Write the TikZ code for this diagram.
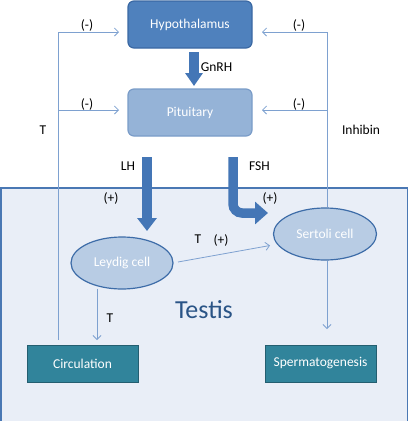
\documentclass[tikz,border=0pt]{standalone}
\usepackage{fontspec}
\setmainfont{Carlito}
\usetikzlibrary{arrows.meta,shapes.geometric}
\definecolor{hypfill}{HTML}{4F81BD}
\definecolor{hypdraw}{HTML}{3A68A3}
\definecolor{pitfill}{HTML}{95B3D7}
\definecolor{pitdraw}{HTML}{7A9CC8}
\definecolor{cellfill}{HTML}{B8CCE4}
\definecolor{celldraw}{HTML}{3D6CA8}
\definecolor{tealfill}{HTML}{31849B}
\definecolor{tealdraw}{HTML}{245E70}
\definecolor{testisbg}{HTML}{E9EEF7}
\definecolor{testisdraw}{HTML}{4A78B4}
\definecolor{thinline}{HTML}{7EA1D0}
\definecolor{bigarrow}{HTML}{4476B6}
\definecolor{testistext}{HTML}{2A5486}
\tikzset{
  txt/.style={font=\fontsize{13.5}{15}\selectfont, inner sep=0pt},
  glandbox/.style={rectangle, rounded corners=6pt, minimum width=124pt, minimum height=47pt, line width=1.2pt, text=white, font=\fontsize{13.5}{15}\selectfont},
  cellell/.style={ellipse, fill=cellfill, draw=celldraw, line width=1.2pt, text=white, font=\fontsize{13.5}{15}\selectfont, inner sep=0pt},
  outbox/.style={rectangle, fill=tealfill, draw=tealdraw, line width=1pt, minimum width=111pt, minimum height=37pt, text=white, font=\fontsize{13.5}{15}\selectfont},
  thin/.style={draw=thinline, line width=0.8pt},
  thinarrow/.style={thin, -{Straight Barb[length=4pt,width=8pt]}},
  blockarrow/.style={draw=bigarrow, line width=9.5pt, -{Triangle[length=13pt,width=19pt]}}
}
\begin{document}
\begin{tikzpicture}[x=1pt,y=-1pt]
\useasboundingbox (0,0) rectangle (409,421);
% testis background
\draw[fill=testisbg, draw=testisdraw, line width=1.5pt] (1,188) rectangle (407.5,430);
% glands
\node[glandbox, fill=hypfill, draw=hypdraw] (hyp) at (190,24.5) {Hypothalamus};
\node[glandbox, fill=pitfill, draw=pitdraw] (pit) at (190,112.5) {Pituitary};
% cells
\node[cellell, minimum width=102pt, minimum height=52pt] (ley) at (122,263) {Leydig cell};
\node[cellell, minimum width=103pt, minimum height=52pt] (ser) at (325,234) {Sertoli cell};
% outputs
\node[outbox] (circ) at (82.5,363.5) {Circulation};
\node[outbox] (sperm) at (320.5,363.5) {Spermatogenesis};
% Testis label
\node[font=\fontsize{26}{28}\selectfont, text=testistext, inner sep=0pt] (testis) at (204,310) {Testis};
% feedback loops
\coordinate (lbot) at (58,340);
\coordinate (ltop) at (58,32);
\coordinate (lmid) at (58,110);
\coordinate (hypL) at (119,32);
\coordinate (pitL) at (119,110);
\coordinate (rtop) at (327,32);
\coordinate (rmid) at (327,110);
\coordinate (hypR) at (262,32);
\coordinate (pitR) at (262,110);
\draw[thin] (lbot) -- (ltop);
\draw[thinarrow] (ltop) -- (hypL);
\draw[thinarrow] (lmid) -- (pitL);
\draw[thin] (ser.north -| rtop) -- (rtop);
\draw[thinarrow] (rtop) -- (hypR);
\draw[thinarrow] (rmid) -- (pitR);
% internal arrows
\coordinate (leyR) at (178,262);
\coordinate (serL) at (270,245.5);
\draw[thinarrow] (leyR) -- (serL);
\coordinate (tstart) at (97,288.5);
\coordinate (tend) at (97,340);
\draw[thinarrow] (tstart) -- (tend);
\coordinate (sstart) at (327,261);
\coordinate (send) at (327,329);
\draw[thinarrow] (sstart) -- (send);
% big arrows
\coordinate (gtop) at (194,52);
\coordinate (gend) at (194,86);
\draw[blockarrow, -{Triangle[length=13pt,width=17pt]}] (gtop) -- (gend);
\coordinate (lhtop) at (147,157);
\coordinate (lhend) at (147,231);
\draw[blockarrow] (lhtop) -- (lhend);
\coordinate (fshtop) at (233,157);
\coordinate (fshend) at (268,213);
\draw[blockarrow, -{Triangle[length=13pt,width=22pt]}, rounded corners=9pt] (fshtop) |- (fshend);
% labels
\node[txt] (m1) at (87,25) {(-)};
\node[txt] (m2) at (299,25) {(-)};
\node[txt] (m3) at (87,104) {(-)};
\node[txt] (m4) at (299,104) {(-)};
\node[txt] (tl) at (43,130) {T};
\node[txt] (inh) at (361,130) {Inhibin};
\node[txt] (gnrh) at (216.5,67) {GnRH};
\node[txt] (lh) at (128,166) {LH};
\node[txt] (fsh) at (259.5,166) {FSH};
\node[txt] (p1) at (111,198) {(+)};
\node[txt] (p2) at (270,198) {(+)};
\node[txt] (t2) at (198,239.5) {T};
\node[txt] (p3) at (221,240) {(+)};
\node[txt] (t3) at (110,318) {T};
\end{tikzpicture}
\end{document}
